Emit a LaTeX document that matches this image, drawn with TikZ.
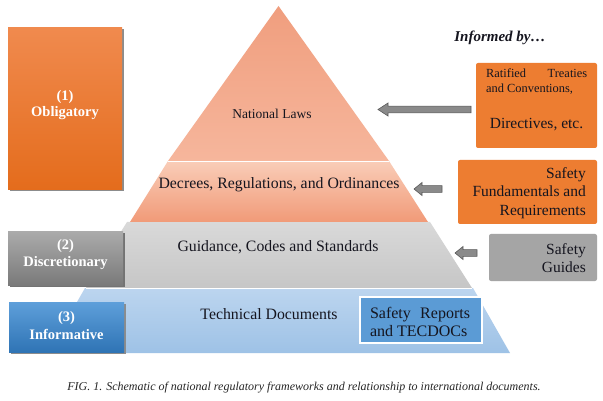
\documentclass[tikz,border=0pt]{standalone}
\usepackage{fontspec}
\setmainfont{Liberation Serif}
\usetikzlibrary{calc}
\definecolor{lAtop}{HTML}{F09E7E}
\definecolor{lAbot}{HTML}{F6B69C}
\definecolor{lBtop}{HTML}{F9CDB8}
\definecolor{lBbot}{HTML}{F19A78}
\definecolor{lCtop}{HTML}{D9D9D9}
\definecolor{lCbot}{HTML}{C6C6C6}
\definecolor{lDtop}{HTML}{BCD5EF}
\definecolor{lDbot}{HTML}{9EC2E6}
\definecolor{obTop}{HTML}{F08A4E}
\definecolor{obBot}{HTML}{E46C1C}
\definecolor{diTop}{HTML}{AAAAAA}
\definecolor{diBot}{HTML}{7A7A7A}
\definecolor{inTop}{HTML}{5E9FDA}
\definecolor{inBot}{HTML}{2F74B5}
\definecolor{rOrange}{HTML}{ED7D31}
\definecolor{rGray}{HTML}{A5A5A5}
\definecolor{srBlue}{HTML}{5B9BD5}
\definecolor{arFill}{HTML}{8A8A8A}
\definecolor{arLine}{HTML}{5A5A5A}
\definecolor{txt}{HTML}{15151F}
\newcommand\fsz[2]{\fontsize{#1}{#2}\selectfont}
\newcommand\blkarrow[3]{%
  \draw[blkar] (#2) -- ($(#2)+(#3,-6.5)$) -- ($(#2)+(#3,-3.4)$) -- ($(#1)+(0,-3.4)$)
    -- ($(#1)+(0,3.4)$) -- ($(#2)+(#3,3.4)$) -- ($(#2)+(#3,6.5)$) -- cycle;}
\begin{document}
\begin{tikzpicture}[x=1pt,y=-1pt,
  pyrtext/.style={inner sep=0pt,text=txt},
  lefttext/.style={inner sep=0pt,text=white,font=\fsz{14.5}{16.5}\bfseries,align=center},
  leftbox/.style={draw=none,inner sep=0pt,rectangle},
  rightbox/.style={rectangle,rounded corners=2pt,inner sep=0pt},
  righttext/.style={inner sep=0pt,text=txt,align=right,font=\fsz{15.5}{18.5}},
  blkar/.style={fill=arFill,draw=arLine,line width=0.6pt,line join=miter},
  sep/.style={white,line width=0.8pt}]
\useasboundingbox (0,0) rectangle (603,401);
\fill[white] (0,0) rectangle (603,401);

% ---- pyramid layers
\shade[top color=lDtop,bottom color=lDbot] (85,288) -- (473,288) -- (510,353) -- (48,353) -- cycle;
\shade[top color=lCtop,bottom color=lCbot] (127,222) -- (430,222) -- (472,288) -- (86,288) -- cycle;
\shade[top color=lBtop,bottom color=lBbot] (168,161) -- (389,161) -- (428,222) -- (130,222) -- cycle;
\shade[top color=lAtop,bottom color=lAbot] (278.5,6) -- (389,161) -- (168,161) -- cycle;
\draw[sep] (168,161) -- (389,161);
\draw[white,line width=0.5pt] (86,288) -- (472,288);

\node[pyrtext,font=\fsz{13.5}{15}] (nl) at (272,114) {National Laws};
\node[pyrtext,font=\fsz{15.8}{17}] (dec) at (279,185) {Decrees, Regulations, and Ordinances};
\node[pyrtext,font=\fsz{15.8}{17}] (gui) at (278,247) {Guidance, Codes and Standards};
\node[pyrtext,font=\fsz{15.8}{17}] (tec) at (269,314) {Technical Documents};

% ---- safety reports box
\node[rectangle,fill=srBlue,draw=white,line width=1.4pt,minimum width=122pt,minimum height=46pt,inner sep=0pt] (sr) at (421,320) {};
\node[inner sep=0pt,text=txt,font=\fsz{16}{18}] (srt) at (420,322)
  {\parbox{100pt}{Safety\hfill Reports\\and TECDOCs}};

% ---- left boxes (with shadows)
\fill[black!45] (9.5,29.5) rectangle (123.5,191.5);
\shade[top color=obTop,bottom color=obBot] (8,28) rectangle (122,190);
\node[leftbox,minimum width=114pt,minimum height=162pt] (obl) at (65,109) {};
\node[lefttext] (oblt) at (65,105) {(1)\\Obligatory};

\fill[black!55] (9.5,233.5) rectangle (124.5,286.5);
\shade[top color=diTop,bottom color=diBot] (8,232) rectangle (123,285);
\node[leftbox,minimum width=115pt,minimum height=53pt] (dis) at (65.5,258.5) {};
\node[lefttext] (dist) at (65.5,254.5) {(2)\\Discretionary};

\fill[black!45] (10.5,303.5) rectangle (125.5,353.5);
\shade[top color=inTop,bottom color=inBot] (9,302) rectangle (124,352);
\node[leftbox,minimum width=115pt,minimum height=50pt] (inf) at (66.5,327) {};
\node[lefttext,font=\fsz{14.5}{18}\bfseries] (inft) at (66.5,326) {(3)\\Informative};

% ---- right side
\node[inner sep=0pt,text=txt,font=\fsz{15}{17}\bfseries\itshape] (inb) at (500,38) {Informed by\ldots};

\node[rightbox,fill=rOrange,minimum width=121pt,minimum height=85pt] (b1) at (536.5,105.5) {};
\node[inner sep=0pt,text=txt,font=\fsz{12.4}{14.5},anchor=north west] (b1a) at (486,69)
  {\parbox{101pt}{Ratified\hfill Treaties\\and Conventions,}};
\node[inner sep=0pt,text=txt,font=\fsz{15.5}{17}] (b1b) at (536.5,125) {Directives, etc.};

\node[rightbox,fill=rOrange,minimum width=139pt,minimum height=64pt] (b2) at (527.5,192) {};
\node[righttext,anchor=east] (b2t) at (586,193) {Safety\\Fundamentals and\\Requirements};

\node[rightbox,fill=rGray,minimum width=108pt,minimum height=47pt] (b3) at (543,257.5) {};
\node[righttext,anchor=east] (b3t) at (586,258) {Safety\\Guides};

% ---- block arrows
\coordinate (a1t) at (471,109.5); \coordinate (a1h) at (378,109.5);
\coordinate (a2t) at (442,189);   \coordinate (a2h) at (414,189);
\coordinate (a3t) at (477,253);   \coordinate (a3h) at (455,253);
\blkarrow{a1t}{a1h}{10}
\blkarrow{a2t}{a2h}{8}
\blkarrow{a3t}{a3h}{8}

% ---- caption
\node[inner sep=0pt,text=black!85,font=\fsz{12}{14}\itshape] (cap) at (304,388)
  {FIG. 1. Schematic of national regulatory frameworks and relationship to international documents.};
\end{tikzpicture}
\end{document}
